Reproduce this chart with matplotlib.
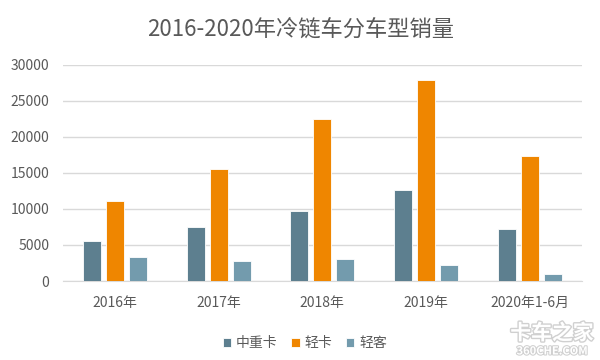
import numpy as np
import matplotlib
matplotlib.use('Agg')
import matplotlib.pyplot as plt
import matplotlib.patheffects as pe

plt.rcParams['font.family'] = ['Noto Sans CJK SC', 'DejaVu Sans']

categories = ['2016年', '2017年', '2018年', '2019年', '2020年1-6月']
series_names = ['中重卡', '轻卡', '轻客']
zhongzhongka = [5600, 7500, 9700, 12600, 7270]
qingka = [11150, 15500, 22500, 27900, 17400]
qingke = [3380, 2730, 3010, 2270, 930]

colors = ['#5D7F8F', '#EF8600', '#739BAD']
grey = '#595959'

fig = plt.figure(figsize=(6, 3.6), dpi=100)
ax = fig.add_axes([0.105, 0.2194, 0.8645, 0.6006])

x = np.arange(len(categories))
width = 0.174
step = 0.222
for i, (name, vals) in enumerate(zip(series_names, [zhongzhongka, qingka, qingke])):
    ax.bar(x + (i - 1) * step, vals, width, color=colors[i], label=name,
           edgecolor='white', linewidth=0.6, zorder=3)

ax.set_xlim(-0.5, len(categories) - 0.5)
ax.set_ylim(0, 30000)
ax.set_yticks(range(0, 30001, 5000))
ax.set_xticks(x)
ax.set_xticklabels(categories)
ax.tick_params(axis='both', length=0, colors=grey, labelsize=10)
ax.tick_params(axis='y', pad=10)
ax.tick_params(axis='x', pad=11)
ax.grid(axis='y', color='#D9D9D9', linewidth=1, zorder=0)
for s in ['top', 'right', 'left']:
    ax.spines[s].set_visible(False)
ax.spines['bottom'].set_color('#D9D9D9')

fig.text(0.501, 0.915, '2016-2020年冷链车分车型销量', ha='center', va='center',
         fontsize=16, color=grey)

fig.legend(loc='center', bbox_to_anchor=(0.508, 0.046), ncol=3, frameon=False,
           fontsize=10, handlelength=0.6, handleheight=0.6, handletextpad=0.35,
           columnspacing=1.0, labelcolor=grey)

# watermark
wm = fig.text(0.92, 0.075, '卡车之家', ha='center', va='center', fontsize=15,
              color='white', fontweight='bold')
wm.set_path_effects([pe.withStroke(linewidth=2, foreground='#D0D0D0')])
wm2 = fig.text(0.92, 0.025, '360CHE.COM', ha='center', va='center', fontsize=8,
               color='white', fontweight='bold')
wm2.set_path_effects([pe.withStroke(linewidth=1.5, foreground='#D0D0D0')])

fig.savefig('out.png', dpi=100)
